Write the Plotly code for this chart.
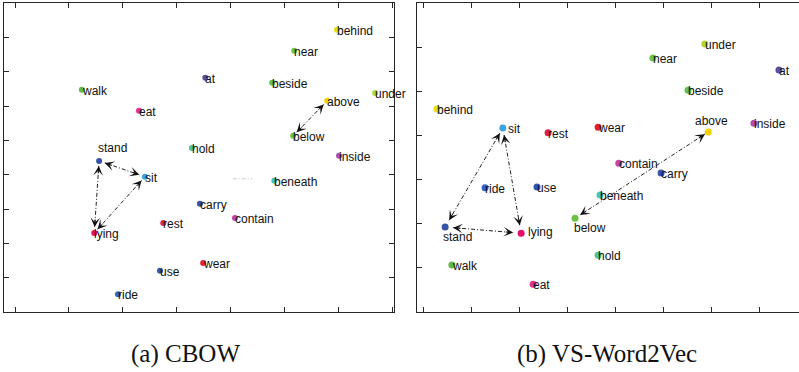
import math
import plotly.graph_objects as go

W, H = 799, 372

# ---------------- data ----------------
# Panel (a) CBOW
words_a = ["behind", "near", "at", "beside", "walk", "under", "above", "eat", "below", "hold",
           "stand", "inside", "sit", "beneath", "carry", "contain", "rest", "lying", "wear", "use", "ride"]
x_a = [5.97, 5.18, 3.53, 4.77, 1.24, 6.68, 5.79, 2.30, 5.16, 3.28,
       1.56, 6.01, 2.41, 4.81, 3.43, 4.08, 2.75, 1.47, 3.49, 2.69, 1.91]
y_a = [8.22, 7.61, 6.82, 6.68, 6.47, 6.38, 6.15, 5.86, 5.13, 4.78,
       4.40, 4.55, 3.94, 3.82, 3.15, 2.74, 2.59, 2.30, 1.43, 1.20, 0.52]

# Panel (b) VS-Word2Vec
words_b = ["under", "near", "at", "beside", "behind", "sit", "wear", "inside", "rest", "above",
           "contain", "carry", "ride", "use", "beneath", "below", "stand", "lying", "walk", "hold", "eat"]
x_b = [5.86, 4.78, 7.40, 5.51, 0.29, 1.66, 3.64, 6.88, 2.60, 5.93,
       4.07, 4.95, 1.29, 2.37, 3.68, 3.16, 0.46, 2.04, 0.60, 3.64, 2.29]
y_b = [6.07, 5.75, 5.48, 5.02, 4.59, 4.16, 4.18, 4.27, 4.05, 4.07,
       3.36, 3.14, 2.80, 2.82, 2.64, 2.11, 1.91, 1.77, 1.05, 1.27, 0.61]

# relation arrows (double-headed)
pairs_a = [("stand", "sit"), ("stand", "lying"), ("sit", "lying"), ("above", "below")]
pairs_b = [("sit", "stand"), ("sit", "lying"), ("stand", "lying"), ("above", "below")]

# faint leftover stroke in panel (a)
faint_x = [4.04, 4.40]
faint_y = [3.88, 3.88]

captions = ["(a) CBOW", "(b) VS-Word2Vec"]

# ---------------- style ----------------
word_colors = {
    "behind": "#e3e01e", "near": "#72c044", "at": "#5b4ea3", "beside": "#62c050",
    "walk": "#62b843", "under": "#b5d333", "above": "#f2d200", "eat": "#e2338c",
    "below": "#6cc142", "hold": "#55c493", "stand": "#3552a8", "inside": "#b04fb0",
    "sit": "#3ca3e0", "beneath": "#45c4c2", "carry": "#3553b0", "contain": "#c4449f",
    "rest": "#e22145", "lying": "#e3106c", "wear": "#e5202e", "use": "#3553b0",
    "ride": "#3a62c2",
}

dom_x_a = [4 / W, 394 / W]
dom_x_b = [417 / W, 1.0]
dom_y = [1 - 312 / H, 1 - 3 / H]
rng_x_a = [-0.204, 7.03]
rng_y_a = [0, 9]
rng_x_b = [-0.125, 7.817]
rng_y_b = [-0.02, 7.0]

label_style_a = {"stand": dict(xshift=-3, yshift=13)}
label_style_b = {
    "sit": dict(xshift=3),
    "above": dict(xanchor="center", xshift=3, yshift=11),
    "below": dict(xshift=-3, yshift=-10),
    "stand": dict(xshift=-4, yshift=-10),
    "lying": dict(xshift=5, yshift=1),
}
gaps_a = [(6, 6), (5, 6), (5, 5), (5, 5)]
gaps_b = [(6, 8), (7, 8), (8, 8), (4, 6)]

LINE_COL = "#262626"
fig = go.Figure()


def scale(dx, rx, dy, ry):
    sx = (dx[1] - dx[0]) * W / (rx[1] - rx[0])
    sy = (dy[1] - dy[0]) * H / (ry[1] - ry[0])
    return sx, sy


def add_panel(words, xs, ys, xref, yref, msize, label_style, pairs, gaps, sc):
    pos = {w: (x, y) for w, x, y in zip(words, xs, ys)}
    sx, sy = sc
    # arrows
    for (w1, w2), (g1, g2) in zip(pairs, gaps):
        x1, y1 = pos[w1]
        x2, y2 = pos[w2]
        px = (x2 - x1) * sx
        py = -(y2 - y1) * sy
        d = math.hypot(px, py)
        ux, uy = px / d, py / d  # screen direction from w1 to w2
        t1 = (x1 + ux * g1 / sx, y1 - uy * g1 / sy)
        t2 = (x2 - ux * g2 / sx, y2 + uy * g2 / sy)
        fig.add_trace(go.Scatter(
            x=[t1[0], t2[0]], y=[t1[1], t2[1]], mode="lines",
            line=dict(color="#222222", width=1, dash="4px,2px,1px,2px"),
            xaxis=xref, yaxis=yref, hoverinfo="skip", showlegend=False))
        L = 9
        for (tx, ty), sgn in ((t2, -1), (t1, 1)):
            fig.add_annotation(x=tx, y=ty, xref=xref, yref=yref, text="",
                               showarrow=True, arrowhead=3, arrowsize=1.6, arrowwidth=1,
                               arrowcolor="#111111", ax=sgn * ux * L, ay=sgn * uy * L,
                               standoff=0)
    # markers
    fig.add_trace(go.Scatter(
        x=xs, y=ys, mode="markers", xaxis=xref, yaxis=yref,
        marker=dict(size=msize, color=[word_colors[w] for w in words], line=dict(width=0)),
        hoverinfo="text", text=words, showlegend=False, cliponaxis=False))
    # labels
    for w, x, y in zip(words, xs, ys):
        st = dict(xanchor="left", xshift=-2, yshift=-1)
        st.update(label_style.get(w, {}))
        fig.add_annotation(x=x, y=y, xref=xref, yref=yref, text=w, showarrow=False,
                           yanchor="middle",
                           font=dict(family="Liberation Sans, Arial", size=12, color="#111111"),
                           **st)


sc_a = scale(dom_x_a, rng_x_a, dom_y, rng_y_a)
sc_b = scale(dom_x_b, rng_x_b, dom_y, rng_y_b)

fig.add_trace(go.Scatter(x=faint_x, y=faint_y, mode="lines", xaxis="x", yaxis="y",
                         line=dict(color="#c8c8c8", width=1, dash="4px,2px,1px,2px"),
                         hoverinfo="skip", showlegend=False))

add_panel(words_a, x_a, y_a, "x", "y", 6, label_style_a, pairs_a, gaps_a, sc_a)
add_panel(words_b, x_b, y_b, "x2", "y2", 7, label_style_b, pairs_b, gaps_b, sc_b)

axis_common = dict(showgrid=False, zeroline=False, showticklabels=False, ticks="inside",
                   ticklen=5, tickwidth=1.2, tickcolor=LINE_COL, showline=True,
                   linecolor=LINE_COL, linewidth=1.3, tick0=0, dtick=1, fixedrange=True)

fig.update_layout(
    width=W, height=H, margin=dict(l=0, r=0, t=0, b=0),
    paper_bgcolor="white", plot_bgcolor="white", showlegend=False,
    xaxis=dict(domain=dom_x_a, range=rng_x_a, anchor="y", mirror="ticks", **axis_common),
    yaxis=dict(domain=dom_y, range=rng_y_a, anchor="x", mirror="ticks", **axis_common),
    xaxis2=dict(domain=dom_x_b, range=rng_x_b, anchor="y2", mirror="ticks", **axis_common),
    yaxis2=dict(domain=dom_y, range=rng_y_b, anchor="x2", mirror=False, **axis_common),
)

cap_x = [185 / W, 607 / W]
for c, cx in zip(captions, cap_x):
    fig.add_annotation(x=cx, y=1 - 354 / H, xref="paper", yref="paper", text=c,
                       showarrow=False, xanchor="center", yanchor="middle",
                       font=dict(family="Liberation Serif, Times New Roman", size=25, color="#111111"))

fig.write_html("out.html", config={"displayModeBar": False},
               post_script="document.body.style.margin='0';document.body.style.overflow='hidden';")
